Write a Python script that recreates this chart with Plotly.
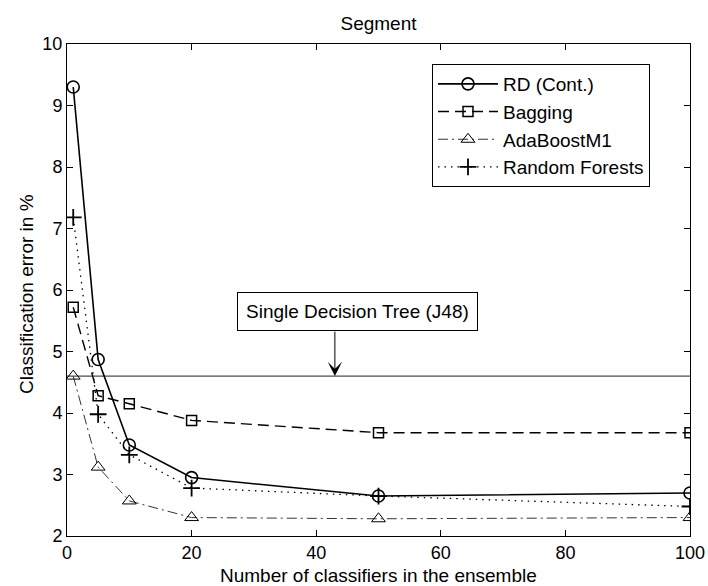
import plotly.graph_objects as go

# ---- data ----
n_classifiers = [1, 5, 10, 20, 50, 100]
rd_cont = [9.30, 4.87, 3.48, 2.95, 2.65, 2.70]
bagging = [5.72, 4.28, 4.15, 3.88, 3.68, 3.68]
adaboost = [4.60, 3.12, 2.57, 2.30, 2.28, 2.30]
random_forests = [7.18, 3.98, 3.32, 2.78, 2.65, 2.48]
single_tree_error = 4.6
single_tree_x_range = [0, 100]
arrow_x = 43
x_ticks = [0, 20, 40, 60, 80, 100]
y_ticks = [2, 3, 4, 5, 6, 7, 8, 9, 10]

FONT = "Liberation Sans, Arial, Helvetica, sans-serif"
FS = 19

# plot area in pixels
L, R, T, B = 67, 690, 44, 536
W, H = R - L, B - T

fig = go.Figure()

fig.add_trace(go.Scatter(
    x=single_tree_x_range, y=[single_tree_error, single_tree_error],
    mode="lines", line=dict(color="#222222", width=1), showlegend=False,
    hoverinfo="skip"))

fig.add_trace(go.Scatter(
    x=n_classifiers, y=rd_cont, name="RD (Cont.)", mode="lines+markers",
    line=dict(color="black", width=1.6),
    marker=dict(symbol="circle-open", size=12, color="black", line=dict(width=1.6))))

fig.add_trace(go.Scatter(
    x=n_classifiers, y=bagging, name="Bagging", mode="lines+markers",
    line=dict(color="black", width=1.4, dash="11px,6px"),
    marker=dict(symbol="square-open", size=10, color="black", line=dict(width=1.5))))

fig.add_trace(go.Scatter(
    x=n_classifiers, y=adaboost, name="AdaBoostM1", mode="lines+markers",
    line=dict(color="#333333", width=1, dash="10px,4px,2px,4px"),
    marker=dict(symbol="triangle-up-open", size=12, color="black", line=dict(width=1))))

fig.add_trace(go.Scatter(
    x=n_classifiers, y=random_forests, name="Random Forests", mode="lines+markers",
    line=dict(color="black", width=1.3, dash="1.5px,5px"),
    marker=dict(symbol="cross-thin-open", size=12, color="black", line=dict(width=1.8))))

# annotation box
fig.add_annotation(
    x=(237 - L) / W, xref="paper", xanchor="left",
    y=(B - 311) / H, yref="paper", yanchor="middle",
    text="Single Decision Tree (J48)", showarrow=False,
    font=dict(family=FONT, size=FS, color="black"),
    bordercolor="black", borderwidth=1, borderpad=8, bgcolor="white")

# arrow
fig.add_annotation(
    x=arrow_x, y=single_tree_error, xref="x", yref="y",
    text="", showarrow=True, ax=0, ay=-46,
    arrowhead=3, arrowsize=2.4, arrowwidth=1, arrowcolor="black")

# axis titles
fig.add_annotation(
    x=0.5, xref="paper", xanchor="center",
    y=-(575 - B) / H, yref="paper", yanchor="middle",
    text="Number of classifiers in the ensemble", showarrow=False,
    font=dict(family=FONT, size=FS, color="black"))
fig.add_annotation(
    x=-(L - 26) / W, xref="paper", xanchor="center",
    y=(B - 294) / H, yref="paper", yanchor="middle",
    text="Classification error in %", textangle=-90, showarrow=False,
    font=dict(family=FONT, size=FS, color="black"))

fig.update_layout(
    width=708, height=586,
    margin=dict(l=L, r=708 - R, t=T, b=586 - B),
    paper_bgcolor="white", plot_bgcolor="white",
    font=dict(family=FONT, size=FS, color="black"),
    title=dict(text="Segment", x=(L + R) / 2 / 708, xanchor="center",
               y=1 - 23 / 586, yanchor="middle", yref="container",
               font=dict(family=FONT, size=FS, color="black")),
    showlegend=True,
    legend=dict(x=(432 - L) / W, y=(B - 64) / H, xanchor="left", yanchor="top",
                bgcolor="white", bordercolor="black", borderwidth=1,
                font=dict(family=FONT, size=FS, color="black"),
                itemwidth=60, tracegroupgap=0),
)

fig.update_xaxes(
    range=[0, 100], tickvals=x_ticks, ticktext=[str(v) for v in x_ticks],
    showline=True, linecolor="black", linewidth=1, mirror="allticks",
    ticks="inside", ticklen=6, tickcolor="black", tickwidth=1,
    tickfont=dict(family=FONT, size=18),
    showgrid=False, zeroline=False, automargin=False)

fig.update_yaxes(
    range=[2, 10], tickvals=y_ticks, ticktext=[str(v) for v in y_ticks],
    showline=True, linecolor="black", linewidth=1, mirror="allticks",
    ticks="inside", ticklen=6, tickcolor="black", tickwidth=1,
    tickfont=dict(family=FONT, size=18),
    showgrid=False, zeroline=False, automargin=False)

fig.write_html("out.html", config={"displayModeBar": False},
               post_script="document.body.style.margin='0';")
